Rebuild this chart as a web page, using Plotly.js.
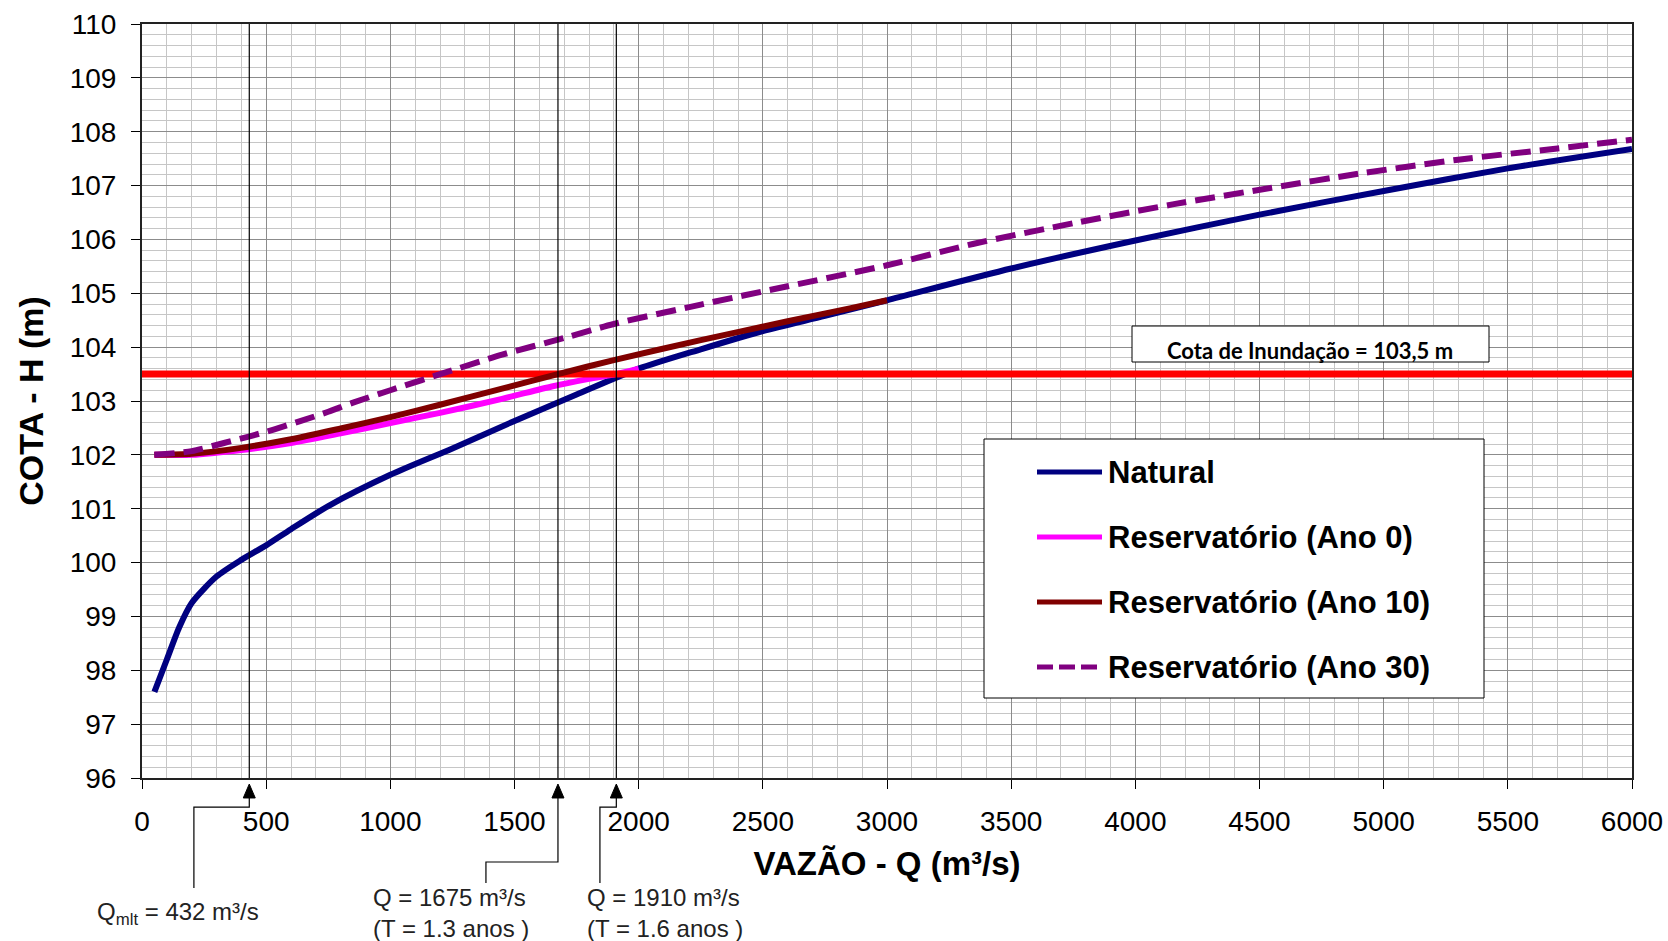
<!DOCTYPE html>
<html><head><meta charset="utf-8">
<script src="https://cdn.plot.ly/plotly-3.0.1.min.js"></script>
<style>html,body{margin:0;padding:0;background:#fff}</style>
</head><body><div id="chart" style="width:1668px;height:941px"></div>
<script>
// ---- data ----
const naturalQ = [50, 100, 150, 200, 300, 400, 500, 600, 750, 1000, 1250, 1500, 1750, 2000, 2250, 2500, 2750, 3000, 3500, 4000, 4500, 5000, 5500, 6000];
const naturalH = [97.6, 98.2, 98.8, 99.25, 99.74, 100.05, 100.32, 100.62, 101.05, 101.63, 102.12, 102.63, 103.12, 103.6, 103.96, 104.3, 104.58, 104.87, 105.46, 105.98, 106.46, 106.9, 107.32, 107.68];
const ano0Q = [50, 200, 400, 600, 800, 1000, 1200, 1450, 1650, 1800, 1910, 2000];
const ano0H = [102.0, 102.0, 102.09, 102.22, 102.4, 102.59, 102.78, 103.04, 103.27, 103.41, 103.5, 103.6];
const ano10Q = [50, 200, 400, 600, 800, 1000, 1200, 1450, 1675, 1900, 2250, 2600, 2850, 3000];
const ano10H = [102.0, 102.02, 102.13, 102.29, 102.49, 102.7, 102.93, 103.23, 103.5, 103.76, 104.13, 104.48, 104.72, 104.87];
const ano30Q = [50, 200, 330, 430, 530, 640, 750, 850, 1000, 1250, 1450, 1700, 1900, 2250, 2600, 3000, 3350, 3750, 4150, 4550, 4900, 5300, 5700, 6000];
const ano30H = [102.0, 102.07, 102.22, 102.34, 102.47, 102.63, 102.8, 102.97, 103.2, 103.57, 103.86, 104.17, 104.43, 104.79, 105.13, 105.52, 105.92, 106.3, 106.65, 106.96, 107.22, 107.48, 107.69, 107.85];
const inundationQ = [0, 6000];
const inundationLevel = 103.5;
const markerQ = [432, 1675, 1910];
const markerElbowQ = [209, 1385, 1844];
const markerLabels = ['Q<sub>mlt</sub> = 432 m³/s', 'Q = 1675 m³/s<br>(T = 1.3 anos )', 'Q = 1910 m³/s<br>(T = 1.6 anos )'];
const seriesNames = ['Natural', 'Reservatório (Ano 0)', 'Reservatório (Ano 10)', 'Reservatório (Ano 30)'];
const seriesColors = ['#000080', '#ff00ff', '#800000', '#800080'];
const seriesDash = ['solid', 'solid', 'solid', '20px,9px'];
const xTitle = 'VAZÃO - Q (m³/s)';
const yTitle = 'COTA - H (m)';
const inundationText = 'Cota de Inundação = 103,5 m';

const FONT = 'Arial, "Liberation Sans", sans-serif';

function series(q, h, i) {
  return {x: q, y: h, type: 'scatter', mode: 'lines', name: seriesNames[i], showlegend: false,
    line: {color: seriesColors[i], width: 6, dash: seriesDash[i], shape: 'spline', smoothing: 0.7},
    hoverinfo: 'skip'};
}
const traces = [
  series(naturalQ, naturalH, 0),
  series(ano0Q, ano0H, 1),
  {x: inundationQ, y: inundationQ.map(() => inundationLevel), type: 'scatter', mode: 'lines', showlegend: false,
    line: {color: '#ff0000', width: 7}, hoverinfo: 'skip'},
  series(ano10Q, ano10H, 2),
  series(ano30Q, ano30H, 3)
];

// ---- layout helpers (pixel layout of the reference) ----
const shapes = [];
const annotations = [];
const yPix = p => (778 - p) / 754; // pixel row -> paper y
const xPix = p => (p - 142) / 1490; // pixel col -> paper x
const pxPerQ = 1490 / 6000;

markerQ.forEach((q, i) => {
  shapes.push({type: 'line', xref: 'x', yref: 'paper', x0: q, x1: q, y0: 0, y1: 1,
    line: {color: '#000', width: 1.2}, layer: 'above'});
  const hw = 6 / pxPerQ;
  shapes.push({type: 'path', xref: 'x', yref: 'paper',
    path: 'M ' + (q - hw) + ',' + yPix(798).toFixed(4) + ' L ' + q + ',' + yPix(784).toFixed(4) + ' L ' + (q + hw) + ',' + yPix(798).toFixed(4) + ' Z',
    fillcolor: '#000', line: {color: '#000', width: 1}});
});
// connectors
const conn = [
  [[markerQ[0], 798], [markerQ[0], 807], [markerElbowQ[0], 807], [markerElbowQ[0], 888]],
  [[markerQ[1], 798], [markerQ[1], 862], [markerElbowQ[1], 862], [markerElbowQ[1], 883]],
  [[markerQ[2], 798], [markerQ[2], 807], [markerElbowQ[2], 807], [markerElbowQ[2], 883]]
];
conn.forEach(pts => {
  const d = pts.map((p, k) => (k ? 'L ' : 'M ') + p[0] + ',' + yPix(p[1]).toFixed(4)).join(' ');
  shapes.push({type: 'path', xref: 'x', yref: 'paper', path: d, line: {color: '#000', width: 1.2}});
});
const labelPos = [[178, 'center'], [371, 'left'], [585, 'left']];
markerLabels.forEach((t, i) => {
  annotations.push({xref: 'paper', yref: 'paper', x: xPix(labelPos[i][0]), y: yPix(913),
    xanchor: labelPos[i][1], yanchor: 'middle', align: 'left', showarrow: false, text: t,
    font: {family: FONT, size: 24, color: '#222'}});
});

// inundation label box
shapes.push({type: 'rect', xref: 'paper', yref: 'paper', x0: xPix(1132), x1: xPix(1489), y0: yPix(362), y1: yPix(326),
  line: {color: '#000', width: 1}, fillcolor: '#fff', layer: 'above'});
annotations.push({xref: 'paper', yref: 'paper', x: xPix(1310), y: yPix(350), xanchor: 'center', yanchor: 'middle',
  showarrow: false, text: inundationText, font: {family: 'Lato, "Open Sans", sans-serif', size: 22, color: '#000', weight: 'bold'}});

// legend box (drawn)
shapes.push({type: 'rect', xref: 'paper', yref: 'paper', x0: xPix(984), x1: xPix(1484), y0: yPix(698), y1: yPix(439),
  line: {color: '#000', width: 1}, fillcolor: '#fff', layer: 'above'});
const legY = [472, 537, 602, 667];
seriesNames.forEach((n, i) => {
  shapes.push({type: 'line', xref: 'paper', yref: 'paper', x0: xPix(1037), x1: xPix(1102), y0: yPix(legY[i]), y1: yPix(legY[i]),
    line: {color: seriesColors[i], width: 5, dash: i === 3 ? '16px,6px' : 'solid'}, layer: 'above'});
  annotations.push({xref: 'paper', yref: 'paper', x: xPix(1106), y: yPix(legY[i]), xanchor: 'left', yanchor: 'middle',
    showarrow: false, text: '<b>' + n + '</b>', font: {family: FONT, size: 31, color: '#000'}});
});

const layout = {
  width: 1668, height: 941,
  margin: {l: 142, r: 36, t: 24, b: 163},
  paper_bgcolor: '#fff', plot_bgcolor: '#fff',
  showlegend: false,
  font: {family: FONT, color: '#000'},
  xaxis: {
    range: [0, 6000], tick0: 0, dtick: 500, ticks: 'outside', ticklen: 9, tickcolor: '#000', tickwidth: 1,
    tickfont: {family: FONT, size: 28, color: '#000'}, ticklabelstandoff: 8,
    showgrid: true, gridcolor: '#8c8c8c', gridwidth: 1,
    minor: {dtick: 100, showgrid: true, gridcolor: '#c6c6c6', gridwidth: 1},
    showline: true, linecolor: '#222', linewidth: 2, mirror: true, zeroline: false,
    title: {text: '<b>' + xTitle + '</b>', font: {family: FONT, size: 33, color: '#000'}, standoff: 16},
    automargin: false, fixedrange: true
  },
  yaxis: {
    range: [96, 110], tick0: 96, dtick: 1, ticks: 'outside', ticklen: 9, tickcolor: '#000', tickwidth: 1,
    tickfont: {family: FONT, size: 28, color: '#000'}, ticklabelstandoff: 9,
    showgrid: true, gridcolor: '#8c8c8c', gridwidth: 1,
    minor: {dtick: 0.2, showgrid: true, gridcolor: '#c6c6c6', gridwidth: 1},
    showline: true, linecolor: '#222', linewidth: 2, mirror: true, zeroline: false,
    title: {text: '<b>' + yTitle + '</b>', font: {family: FONT, size: 34, color: '#000'}, standoff: 16},
    automargin: false, fixedrange: true
  },
  shapes: shapes,
  annotations: annotations
};

Plotly.newPlot('chart', traces, layout, {displayModeBar: false, staticPlot: true});
</script>
</body></html>
